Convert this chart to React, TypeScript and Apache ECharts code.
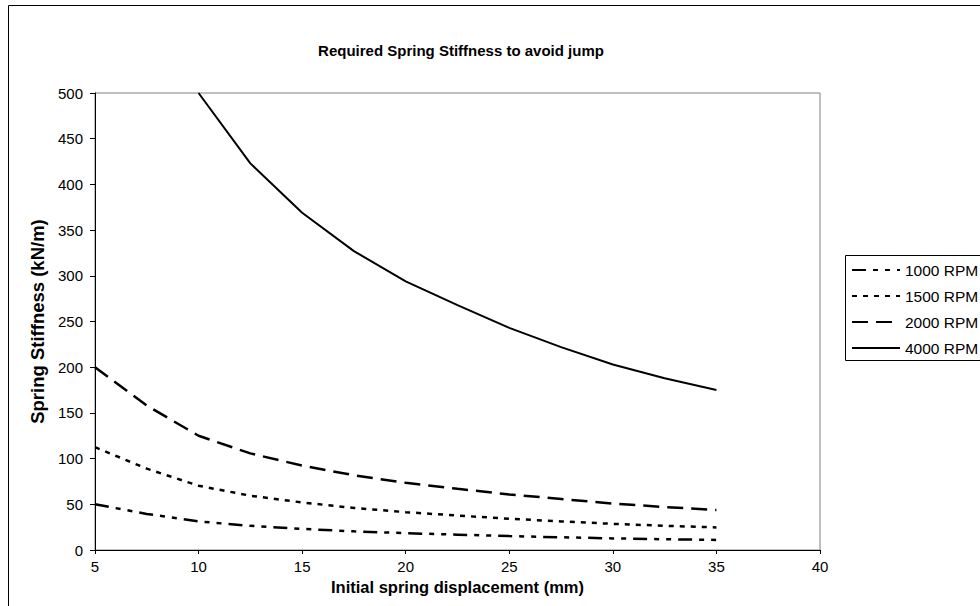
import React, { useEffect, useRef } from "react";
import * as echarts from "echarts";

const displacement = [5, 7.5, 10, 12.5, 15, 17.5, 20, 22.5, 25, 27.5, 30, 32.5, 35];
const rpm1000 = [50, 39.5, 31.3, 26.4, 23.1, 20.4, 18.4, 16.8, 15.2, 13.9, 12.7, 11.8, 11];
const rpm1500 = [112.5, 89, 70.3, 59.4, 52, 46, 41.4, 37.7, 34.2, 31.3, 28.6, 26.5, 24.7];
const rpm2000 = [200, 158, 125, 105.7, 92.3, 81.8, 73.5, 67, 60.8, 55.8, 50.8, 47, 43.8];
const rpm4000 = [null, null, 500, 423, 369, 327, 294, 268, 243, 222, 203, 188, 175];
const seriesNames = ["1000 RPM", "1500 RPM", "2000 RPM", "4000 RPM"];
const seriesValues = [rpm1000, rpm1500, rpm2000, rpm4000];
const xTicks = { min: 5, max: 40, interval: 5 };
const yTicks = { min: 0, max: 500, interval: 50 };

const dashStyles: any[] = [[14, 7, 5, 7, 5, 7], [5, 6], [16, 8], "solid"];
const widths = [2.5, 2.5, 2.5, 2];

export default function App() {
  const ref = useRef<HTMLDivElement>(null);
  useEffect(() => {
    document.body.style.margin = "0";
    const chart = echarts.init(ref.current!, null, { renderer: "svg" });
    const font = "Liberation Sans, Arial, sans-serif";
    chart.setOption({
      animation: false,
      backgroundColor: "#fff",
      title: {
        text: "Required Spring Stiffness to avoid jump",
        left: 456,
        textAlign: "center",
        top: 38,
        textStyle: { fontFamily: font, fontSize: 15, fontWeight: "bold", color: "#000" },
      },
      grid: {
        left: 95,
        top: 93,
        right: 160,
        bottom: 56,
        show: true,
        borderColor: "#808080",
        borderWidth: 1,
        backgroundColor: "#fff",
      },
      legend: {
        orient: "vertical",
        left: 851,
        top: 262,
        itemWidth: 48,
        itemHeight: 14,
        itemGap: 10,
        padding: 0,
        data: seriesNames,
        itemStyle: { opacity: 0 },
        textStyle: { fontFamily: font, fontSize: 15.5, color: "#000" },
      },
      graphic: [
        {
          type: "rect",
          shape: { x: 8.5, y: 5.5, width: 1000, height: 700 },
          style: { fill: "none", stroke: "#000", lineWidth: 1 },
          silent: true,
          z: -1,
        },
        {
          type: "rect",
          shape: { x: 845.5, y: 255.5, width: 200, height: 105 },
          style: { fill: "none", stroke: "#000", lineWidth: 1 },
          silent: true,
        },
      ],
      xAxis: {
        type: "value",
        min: xTicks.min,
        max: xTicks.max,
        interval: xTicks.interval,
        name: "Initial spring displacement (mm)",
        nameLocation: "middle",
        nameGap: 16,
        nameTextStyle: { fontFamily: font, fontSize: 16.5, fontWeight: "bold", color: "#000" },
        axisLine: { lineStyle: { color: "#000", width: 1 } },
        axisTick: { show: true, length: 4, lineStyle: { color: "#000" } },
        axisLabel: { fontFamily: font, fontSize: 15, color: "#000", margin: 9 },
        splitLine: { show: false },
      },
      yAxis: {
        type: "value",
        min: yTicks.min,
        max: yTicks.max,
        interval: yTicks.interval,
        name: "Spring Stiffness (kN/m)",
        nameLocation: "middle",
        nameGap: 46,
        nameTextStyle: { fontFamily: font, fontSize: 18.5, fontWeight: "bold", color: "#000" },
        axisLine: { show: true, lineStyle: { color: "#000", width: 1 } },
        axisTick: { show: true, length: 5, lineStyle: { color: "#000" } },
        axisLabel: { fontFamily: font, fontSize: 15, color: "#000", margin: 12 },
        splitLine: { show: false },
      },
      series: seriesNames.map((name, i) => ({
        name,
        type: "line",
        symbol: "none",
        clip: true,
        data: displacement.map((x, j) => [x, seriesValues[i][j]]),
        lineStyle: { color: "#000", width: widths[i], type: dashStyles[i], cap: "butt" },
        itemStyle: { color: "#000" },
      })),
    });
    return () => chart.dispose();
  }, []);
  return <div ref={ref} style={{ width: 980, height: 606 }} />;
}
